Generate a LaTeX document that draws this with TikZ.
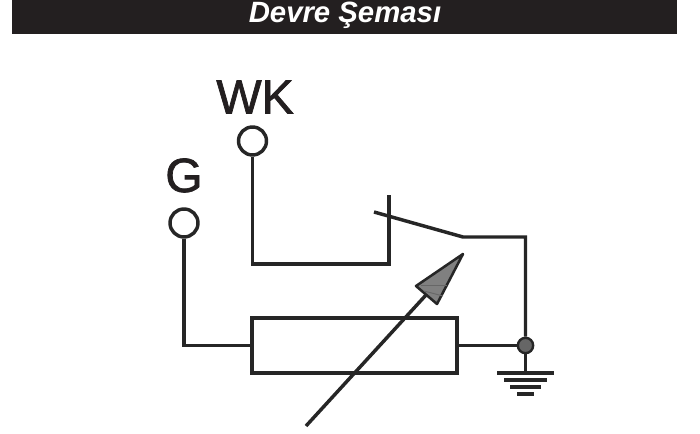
\documentclass[tikz,border=0pt]{standalone}
\usepackage{fontspec}
\setmainfont{Liberation Sans}
\newfontface\labface[FakeBold=1.5]{Liberation Sans}
\definecolor{barcol}{HTML}{231F20}
\definecolor{wirecol}{HTML}{262626}
\definecolor{tipcol}{HTML}{808080}
\definecolor{dotcol}{HTML}{666666}
\tikzset{
  wire/.style={draw=wirecol,line width=2.6pt,line join=miter},
  terminal/.style={circle,draw=wirecol,line width=2.6pt,fill=white,minimum size=21pt,inner sep=0pt},
  junction/.style={circle,draw=wirecol,line width=1.8pt,fill=dotcol,minimum size=11.5pt,inner sep=0pt},
  pinlabel/.style={text=barcol,font=\labface\fontsize{36}{36}\selectfont,inner sep=0pt},
  resistor/.style={draw=wirecol,line width=2.6pt,minimum width=153.75pt,minimum height=41.25pt,inner sep=0pt}
}
\begin{document}
\begin{tikzpicture}[x=0.75pt,y=-0.75pt]
\useasboundingbox (0,0) rectangle (700,434);
\fill[white] (0,0) rectangle (700,434);
\fill[barcol] (12,0) rectangle (677,34);
\node[text=white,font=\bfseries\itshape\fontsize{22}{22}\selectfont,inner sep=0pt] (title) at (345,15) {Devre Şeması};
\node[pinlabel] (wk) at (255,97) {WK};
\node[pinlabel] (g) at (184,175.5) {G};
\node[terminal] (t1) at (252.5,141) {};
\node[terminal] (t2) at (184,223) {};
\node[resistor] (r) at (354.5,345.5) {};
\node[junction] (j) at (525.5,345.5) {};
\coordinate (c1) at (252.5,264);
\coordinate (c2) at (389,264);
\coordinate (c3) at (389,195);
\coordinate (s1) at (374,212);
\coordinate (s2) at (463,237);
\coordinate (s3) at (525.5,237);
\coordinate (gnd) at (525.5,373);
\coordinate (c4) at (184,345.5);
\coordinate (a1) at (306,426);
\coordinate (a2) at (426,295);
\draw[wire] (t1) -- (c1) -- (c2) -- (c3);
\draw[wire] (s1) -- (s2) -- (s3) -- (j);
\draw[wire] (t2) -- (c4) -- (r.west);
\draw[wire] (r.east) -- (j);
\draw[wire] (j) -- (gnd);
\draw[wire] (497,373) -- (554,373);
\draw[wire] (504,380) -- (547,380);
\draw[wire] (510,387) -- (541,387);
\draw[wire] (517,394) -- (534,394);
\draw[wire] (a1) -- (a2);
\draw[draw=wirecol,line width=1.9pt,fill=tipcol,line join=round] (463,254) -- (416,286) -- (437,304) -- cycle;
\draw[draw=wirecol!70,line width=0.7pt] (421,285) -- (447,285);
\draw[draw=wirecol!70,line width=0.7pt] (424,291) -- (443,296);
\end{tikzpicture}
\end{document}
